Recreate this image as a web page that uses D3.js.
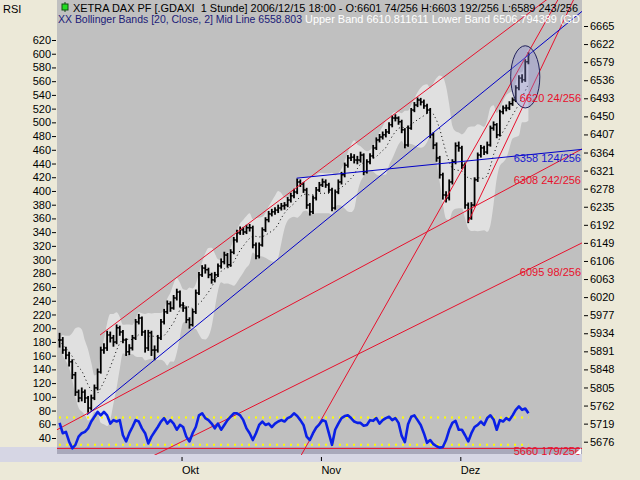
<!DOCTYPE html>
<html>
<head>
<meta charset="utf-8">
<script src="https://cdn.jsdelivr.net/npm/d3@7"></script>
<style>
  body { margin: 0; background: #ece9d8; }
  svg { display: block; font-family: "Liberation Sans", Arial, sans-serif; font-size: 11px; }
</style>
</head>
<body>
<svg width="640" height="480"></svg>
<script>
// half-day bars, 4 Sep 2006 (pm) .. 15 Dec 2006
var closes = [5918,5894,5882,5866,5835,5794,5780,5794,5780,5756,
  5780,5804,5842,5894,5899,5930,5923,5913,5947,5937,
  5918,5890,5899,5923,5961,5970,5937,5899,5935,5894,
  5894,5923,5961,5985,6004,5994,6018,6032,6001,5994,
  5966,5954,5985,6030,6073,6089,6085,6073,6061,6073,
  6094,6104,6120,6097,6127,6156,6173,6180,6175,6185,
  6185,6144,6118,6144,6180,6204,6218,6223,6227,6232,
  6237,6239,6251,6261,6270,6294,6289,6275,6239,6223,
  6256,6275,6287,6294,6287,6275,6232,6270,6294,6311,
  6334,6351,6353,6346,6346,6358,6318,6342,6356,6375,
  6394,6401,6406,6413,6430,6446,6446,6437,6418,6382,
  6422,6465,6477,6489,6484,6475,6465,6406,6382,6351,
  6311,6263,6256,6294,6342,6380,6375,6334,6239,6208,
  6239,6299,6358,6375,6365,6382,6422,6430,6406,6461,
  6470,6470,6480,6489,6518,6541,6537,6580,6597];

var highs = [5935,5925,5902,5890,5872,5842,5800,5805,5800,5785,
  5788,5812,5850,5902,5910,5940,5938,5930,5955,5952,
  5942,5922,5908,5930,5968,5980,5974,5942,5942,5940,
  5905,5930,5968,5992,6012,6010,6025,6040,6036,6008,
  5998,5972,5992,6038,6080,6096,6098,6090,6078,6080,
  6100,6112,6128,6125,6134,6163,6180,6188,6187,6192,
  6194,6190,6150,6150,6186,6210,6225,6230,6234,6240,
  6244,6246,6258,6268,6278,6302,6300,6294,6280,6244,
  6262,6282,6294,6302,6300,6292,6280,6276,6300,6318,
  6340,6358,6362,6360,6356,6366,6362,6348,6362,6382,
  6400,6408,6414,6420,6436,6452,6455,6450,6442,6422,
  6428,6470,6484,6495,6494,6490,6480,6470,6412,6388,
  6356,6316,6272,6300,6348,6388,6390,6380,6340,6245,
  6246,6305,6364,6382,6380,6390,6428,6438,6434,6466,
  6476,6478,6486,6495,6524,6548,6550,6586,6603];

var lows = [5900,5885,5872,5855,5825,5785,5770,5772,5768,5745,
  5750,5775,5798,5838,5885,5892,5912,5902,5908,5928,
  5910,5880,5882,5893,5918,5955,5928,5888,5892,5880,
  5870,5888,5918,5955,5980,5985,5990,6012,5995,5985,
  5958,5945,5950,5980,6025,6068,6076,6065,6052,6055,
  6068,6088,6098,6090,6092,6122,6150,6168,6168,6170,
  6176,6136,6110,6112,6140,6175,6198,6212,6216,6220,
  6226,6228,6234,6245,6255,6265,6282,6268,6230,6214,
  6218,6250,6270,6282,6280,6268,6224,6228,6265,6288,
  6305,6328,6344,6338,6336,6340,6310,6314,6336,6350,
  6370,6388,6395,6400,6408,6424,6438,6430,6410,6374,
  6378,6418,6460,6472,6476,6468,6456,6398,6372,6342,
  6302,6252,6245,6250,6288,6336,6366,6325,6230,6196,
  6204,6234,6294,6352,6358,6360,6378,6416,6398,6402,
  6455,6462,6465,6475,6484,6512,6530,6532,6574];

var rsi = [62,47,49,35,25,30,42,47,49,54,
  64,71,78,73,78,73,61,66,64,66,
  44,35,47,56,66,64,54,47,32,42,
  49,56,64,69,61,66,61,52,59,56,
  42,35,47,56,73,76,69,66,61,54,
  61,52,59,66,71,76,76,73,66,54,
  47,37,47,59,64,59,61,56,61,64,
  66,64,69,71,76,72,66,59,42,37,
  47,55,60,66,64,47,30,52,61,69,
  72,73,69,64,62,62,58,59,66,65,
  69,61,66,69,71,66,69,62,43,34,
  60,71,73,66,59,47,33,37,31,28,
  26,27,37,52,62,65,52,52,44,35,
  47,56,59,64,59,69,73,67,52,66,
  64,69,66,73,81,86,81,83,76];

var monthNames = ["Okt", "Nov", "Dez"];
var monthStarts = [39, 83, 127];

var priceTicks = [6665,6622,6579,6536,6493,6450,6407,6364,6321,6278,6235,6192,
  6149,6106,6063,6020,5977,5934,5891,5848,5805,5762,5719,5676];
var rsiTicks = [620,600,580,560,540,520,500,480,460,440,420,400,380,360,340,
  320,300,280,260,240,220,200,180,160,140,120,100,80,60,40];
var rsiLevels = [70, 30];

// trend lines: [bar1, price1, bar2, price2, label]
var redRays = [
  [12.8, 5930, 116.9, 6519, ""],
  [129, 6199, 148, 6501, "6620 24/256"]
];
var redLines = [
  [9, 5744, 164.3, 6370, "6308 242/256"],
  [30.8, 5647, 166.8, 6156, "6095 98/256"],
  [116.9, 6187, 135.9, 6441, ""],
  [0, 5660, 148, 5660, "5660 179/256"]
];
var blueRays = [
  [8.7, 5740, 164.3, 6696, ""],
  [74.85, 6303, 164.3, 6371, "6358 124/256"]
];
var ellipseCenter = [147, 6544];
var ellipseRadii = [4.6, 74];

var titleText = "XETRA DAX PF [.GDAXI  1 Stunde] 2006/12/15 18:00 - O:6601 74/256 H:6603 192/256 L:6589 243/256";
var bbText1 = "XX Bollinger Bands [20, Close, 2] Mid Line 6558.803";
var bbText2 = " Upper Band 6610.811611 Lower Band 6506.794389 (GD";

// Bollinger bands on the bars (period scaled to half-day bars)
var bbPeriod = 8, bbK = 2;
var bands = closes.map(function (c, i) {
    var w = closes.slice(Math.max(0, i - bbPeriod + 1), i + 1);
    var m = d3.mean(w);
    var s = Math.sqrt(d3.mean(w, function (v) { return (v - m) * (v - m); }));
    return {i: i, mid: m, up: m + bbK * s, lo: m - bbK * s};
});

var svg = d3.select("svg");
var plotL = 57, plotR = 582, plotB = 447;

var x = d3.scaleLinear().domain([0, closes.length]).range([58, 530]);
var yP = d3.scaleLinear().domain([5676, 6665]).range([441.7, 26]);
var yR = d3.scaleLinear().domain([40, 620]).range([438, 40]);
function bx(b) { return x(b + 0.5); }
var last = closes.length - 1;

svg.append("defs").append("clipPath").attr("id", "plotclip")
    .append("rect").attr("x", plotL).attr("y", 0)
    .attr("width", plotR - plotL).attr("height", 455);

// bottom bands
svg.append("rect").attr("x", 0).attr("y", 447).attr("width", plotR).attr("height", 15)
    .attr("fill", "#d6d6e4");
svg.append("rect").attr("x", plotL).attr("y", 447).attr("width", plotR - plotL).attr("height", 7)
    .attr("fill", "#a9a9bb");
// plot background
svg.append("rect").attr("x", plotL).attr("y", 0).attr("width", plotR - plotL).attr("height", plotB)
    .attr("fill", "#c0c0c0");

var g = svg.append("g").attr("clip-path", "url(#plotclip)");

// bands
g.append("path").datum(bands)
    .attr("fill", "#e0e0e0")
    .attr("d", d3.area()
        .x(function (d) { return bx(d.i); })
        .y0(function (d) { return yP(d.lo); })
        .y1(function (d) { return yP(d.up); })
        .curve(d3.curveMonotoneX));
g.append("path").datum(bands)
    .attr("fill", "none").attr("stroke", "#000").attr("stroke-width", 1)
    .attr("stroke-dasharray", "1,3")
    .attr("d", d3.line()
        .x(function (d) { return bx(d.i); })
        .y(function (d) { return yP(d.mid); }));

// price bars
var bars = g.append("g").attr("stroke", "#000");
closes.forEach(function (c, i) {
    var o = i > 0 ? closes[i - 1] : c;
    bars.append("line").attr("x1", bx(i)).attr("x2", bx(i))
        .attr("y1", yP(highs[i])).attr("y2", yP(lows[i])).attr("stroke-width", 1.8);
    bars.append("line").attr("x1", bx(i) - 1.6).attr("x2", bx(i))
        .attr("y1", yP(o)).attr("y2", yP(o)).attr("stroke-width", 1.5);
    bars.append("line").attr("x1", bx(i)).attr("x2", bx(i) + 1.6)
        .attr("y1", yP(c)).attr("y2", yP(c)).attr("stroke-width", 1.5);
});

// RSI levels
g.selectAll(".lvl").data(rsiLevels).enter().append("line")
    .attr("x1", plotL + 2).attr("x2", bx(last))
    .attr("y1", function (d) { return yR(d); }).attr("y2", function (d) { return yR(d); })
    .attr("stroke", "#ffff00").attr("stroke-width", 2).attr("stroke-dasharray", "2,5");

// trend lines
function lineVal(l, b) { return l[1] + (l[3] - l[1]) * (b - l[0]) / (l[2] - l[0]); }
function drawLines(list, color, ray) {
    list.forEach(function (l) {
        var b0 = ray ? l[0] : -60, b1 = 300;
        g.append("line")
            .attr("x1", bx(b0)).attr("y1", yP(lineVal(l, b0)))
            .attr("x2", bx(b1)).attr("y2", yP(lineVal(l, b1)))
            .attr("stroke", color).attr("stroke-width", 1);
    });
}
drawLines(redRays, "#e8102c", true);
drawLines(redLines, "#e8102c", false);
drawLines(blueRays, "#0000c8", true);

// RSI line
g.append("path").datum(rsi)
    .attr("fill", "none").attr("stroke", "#0a20e6").attr("stroke-width", 2.6)
    .attr("stroke-linejoin", "round")
    .attr("d", d3.line()
        .x(function (d, i) { return bx(i); })
        .y(function (d) { return yR(d); }));

// ellipse marking the breakout
g.append("ellipse")
    .attr("cx", bx(ellipseCenter[0])).attr("cy", yP(ellipseCenter[1]))
    .attr("rx", x(ellipseRadii[0]) - x(0))
    .attr("ry", yP(ellipseCenter[1] - ellipseRadii[1]) - yP(ellipseCenter[1]))
    .attr("fill", "#8c8cd8").attr("fill-opacity", 0.35)
    .attr("stroke", "#20205a").attr("stroke-width", 1);

// line labels at the value of the last bar
function drawLabels(list, color) {
    list.forEach(function (l) {
        if (!l[4]) return;
        g.append("text")
            .attr("x", plotR - 1).attr("y", yP(lineVal(l, last)) + 3)
            .attr("dy", "0.35em").attr("text-anchor", "end")
            .attr("fill", color).text(l[4]);
    });
}
drawLabels(redRays, "#e8102c");
drawLabels(redLines, "#e8102c");
drawLabels(blueRays, "#1818d0");

// header
var head = svg.append("g").attr("clip-path", "url(#plotclip)");
head.append("line").attr("x1", 65).attr("x2", 65).attr("y1", 2).attr("y2", 12)
    .attr("stroke", "#105010");
head.append("rect").attr("x", 62).attr("y", 4).attr("width", 6).attr("height", 6)
    .attr("fill", "#22dd22").attr("stroke", "#105010");
head.append("text").attr("x", 73).attr("y", 12).style("white-space", "pre")
    .attr("textLength", 505).attr("lengthAdjust", "spacingAndGlyphs")
    .attr("fill", "#000").text(titleText);
head.append("text").attr("x", 58).attr("y", 23).style("white-space", "pre")
    .attr("textLength", 244).attr("lengthAdjust", "spacingAndGlyphs")
    .attr("fill", "#1a1a78").text(bbText1);
head.append("text").attr("x", 302).attr("y", 23).style("white-space", "pre")
    .attr("textLength", 278).attr("lengthAdjust", "spacingAndGlyphs")
    .attr("fill", "#ffffff").text(bbText2);

// corner marker
svg.append("path").attr("d", "M575,454L581,448L581,454Z").attr("fill", "#fff");

// axes
var axR = svg.append("g").attr("transform", "translate(584,0)")
    .call(d3.axisRight(yP).tickValues(priceTicks).tickSize(4).tickPadding(2)
        .tickFormat(d3.format("d")));
var axL = svg.append("g").attr("transform", "translate(56,0)")
    .call(d3.axisLeft(yR).tickValues(rsiTicks).tickSize(4).tickPadding(1)
        .tickFormat(d3.format("d")));
var axB = svg.append("g").attr("transform", "translate(0,457)")
    .call(d3.axisBottom(x).tickValues(monthStarts).tickSize(4)
        .tickFormat(function (d, i) { return monthNames[i]; }));
axB.selectAll("text").attr("text-anchor", "start").attr("x", 0).attr("y", 9);
[axR, axL, axB].forEach(function (a) {
    a.select(".domain").remove();
    a.selectAll("text").attr("fill", "#000")
        .style("font-family", "'Liberation Sans', Arial, sans-serif").style("font-size", "11px");
    a.selectAll("line").attr("stroke", "#000");
});

svg.append("text").attr("x", 3).attr("y", 13).attr("fill", "#000").text("RSI");
</script>
</body>
</html>
